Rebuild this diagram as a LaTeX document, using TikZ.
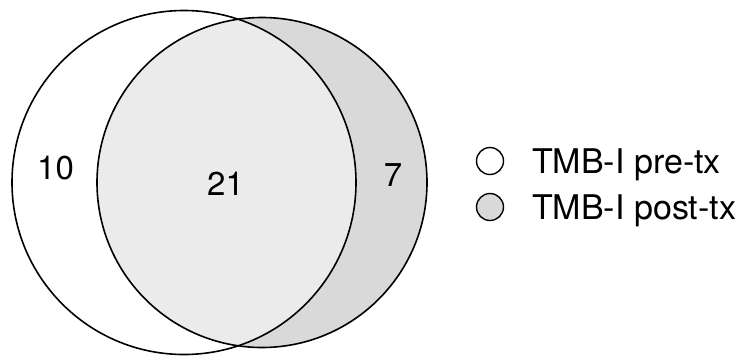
\documentclass[tikz,border=0pt]{standalone}
\usepackage{fontspec}
\setmainfont{TeX Gyre Heros}
\usepackage{xcolor}
\definecolor{vennmid}{HTML}{EBEBEB}
\definecolor{vennpost}{HTML}{D9D9D9}
\usepackage{tikz}
\usetikzlibrary{positioning}

\begin{document}
\begin{tikzpicture}[x=1pt, y=-1pt,
    vennline/.style={draw=black, line width=1.6pt},
    countlabel/.style={inner sep=0pt, font=\fontsize{33}{38}\selectfont},
    legendmark/.style={circle, draw=black, line width=1.4pt, minimum size=27pt, inner sep=0pt},
    legendtext/.style={anchor=base west, inner sep=0pt, font=\fontsize{34}{39}\selectfont}]
  \useasboundingbox (0,0) rectangle (742,360);
  % Venn of the two sets
  \coordinate (precentre) at (184,182.5);
  \coordinate (postcentre) at (262,182.5);
  \fill[vennpost] (postcentre) circle[radius=165pt];
  \begin{scope}
    \clip (precentre) circle[radius=172pt];
    \fill[vennmid] (postcentre) circle[radius=165pt];
  \end{scope}
  \draw[vennline] (precentre) circle[radius=172pt];
  \draw[vennline] (postcentre) circle[radius=165pt];
  % counts
  \node[countlabel] (onlypre) at (55.5,168.5) {10};
  \node[countlabel] (both) at (225.5,183.5) {21};
  \node[countlabel] (onlypost) at (393,175.5) {7};
  % legend
  \node[legendmark, fill=white] (keypre) at (490,161) {};
  \node[legendmark, fill=vennpost] (keypost) at (490,207) {};
  \node[legendtext] (keypretext) at (532,173) {TMB-I pre-tx};
  \node[legendtext] (keyposttext) at (532,219) {TMB-I post-tx};
\end{tikzpicture}
\end{document}
